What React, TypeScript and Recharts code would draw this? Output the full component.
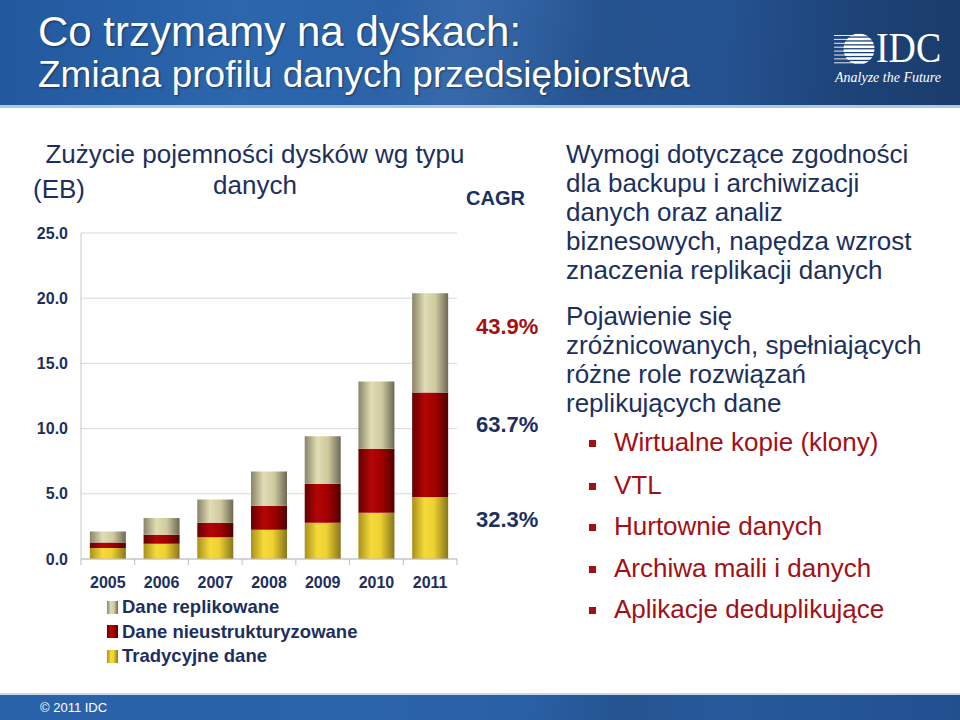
import React from 'react';
import { BarChart, Bar, XAxis, YAxis, CartesianGrid, Legend } from 'recharts';

const years = ['2005', '2006', '2007', '2008', '2009', '2010', '2011'];
const tradycyjne = [0.84, 1.17, 1.66, 2.25, 2.78, 3.55, 4.75];
const nieustrukturyzowane = [0.43, 0.69, 1.12, 1.83, 2.99, 4.9, 8.02];
const replikowane = [0.84, 1.28, 1.79, 2.63, 3.65, 5.16, 7.61];
const yTicks = [0, 5, 10, 15, 20, 25];
const cagrValues = ['43.9%', '63.7%', '32.3%'];
const legendNames = ['Dane replikowane', 'Dane nieustrukturyzowane', 'Tradycyjne dane'];
const legendGradients = ['gRepl', 'gNieu', 'gTrad'];
const para1 = [
  'Wymogi dotyczące zgodności',
  'dla backupu i archiwizacji',
  'danych oraz analiz',
  'biznesowych, napędza wzrost',
  'znaczenia replikacji danych',
];
const para2 = [
  'Pojawienie się',
  'zróżnicowanych, spełniających',
  'różne role rozwiązań',
  'replikujących dane',
];
const bullets = [
  'Wirtualne kopie (klony)',
  'VTL',
  'Hurtownie danych',
  'Archiwa maili i danych',
  'Aplikacje deduplikujące',
];

const data = years.map((y, i) => ({
  year: y,
  trad: tradycyjne[i],
  nieu: nieustrukturyzowane[i],
  repl: replikowane[i],
}));

const NAVY = '#1c2f5e';
const RED = '#a30f14';
const FONT = '"Liberation Sans", Arial, sans-serif';

const cssGrad: Record<string, string> = {
  gTrad: 'linear-gradient(90deg, #a8901c 0%, #f6da3a 35%, #efd232 60%, #8a761c 100%)',
  gNieu: 'linear-gradient(90deg, #640000 0%, #b40606 35%, #a00000 65%, #520000 100%)',
  gRepl: 'linear-gradient(90deg, #88836a 0%, #e2dcb4 35%, #cfc9a0 65%, #6c6852 100%)',
};

const YearTick = (props: any) => {
  const { x, y, payload, index, visibleTicksCount } = props;
  const half = payload && payload.offset ? payload.offset : 26.8;
  return (
    <g>
      <line x1={x - half} y1={y} x2={x - half} y2={y + 6} stroke="#bdbdbd" />
      {index === visibleTicksCount - 1 && (
        <line x1={x + half} y1={y} x2={x + half} y2={y + 6} stroke="#bdbdbd" />
      )}
      <text
        x={x}
        y={y + 29}
        textAnchor="middle"
        fill={NAVY}
        fontSize={16}
        fontWeight="bold"
        fontFamily={FONT}
      >
        {payload.value}
      </text>
    </g>
  );
};

const LegendContent = () => (
  <div style={{ fontFamily: FONT }}>
    {legendNames.map((n, i) => (
      <div
        key={n}
        style={{ display: 'flex', alignItems: 'center', height: 24.5, whiteSpace: 'nowrap' }}
      >
        <div style={{ width: 11, height: 13, background: cssGrad[legendGradients[i]], marginRight: 4 }} />
        <span style={{ fontSize: 18.5, fontWeight: 'bold', color: NAVY }}>{n}</span>
      </div>
    ))}
  </div>
);

const Globe = () => {
  const stripes = [0, 1, 2, 3, 4, 5, 6, 7];
  return (
    <svg width={44} height={34} style={{ position: 'absolute', left: 832, top: 33 }}>
      <defs>
        <clipPath id="globeClip">
          <circle cx={27} cy={16} r={15.5} />
        </clipPath>
      </defs>
      {stripes.map((s) => (
        <line key={'l' + s} x1={2} x2={20} y1={2.5 + s * 3.9} y2={2.5 + s * 3.9} stroke="#ffffff" strokeWidth={0.9} />
      ))}
      <g clipPath="url(#globeClip)">
        {stripes.map((s) => (
          <rect key={s} x={8} y={0.8 + s * 3.9} width={40} height={2.6} fill="#ffffff" />
        ))}
      </g>
    </svg>
  );
};

export default function App() {
  return (
    <div
      style={{
        position: 'absolute',
        left: 0,
        top: 0,
        width: 960,
        height: 720,
        background: '#ffffff',
        overflow: 'hidden',
        fontFamily: FONT,
      }}
    >
      {/* Header */}
      <div
        style={{
          position: 'absolute',
          left: 0,
          top: 0,
          width: 960,
          height: 107,
          background:
            'linear-gradient(100deg, rgba(255,255,255,0) 0%, rgba(255,255,255,0) 40%, rgba(255,255,255,0.06) 48%, rgba(0,0,0,0.08) 62%, rgba(0,0,0,0) 75%, rgba(0,0,0,0.1) 90%), linear-gradient(90deg, #22589e 0%, #2c66ad 25%, #2a5ea2 55%, #234f8c 80%, #1d4379 100%)',
        }}
      />
      <div style={{ position: 'absolute', left: 0, top: 105, width: 960, height: 3, background: '#a9c9e8' }} />
      <div
        style={{
          position: 'absolute',
          left: 38,
          top: 7,
          fontSize: 42,
          color: '#ffffff',
          whiteSpace: 'nowrap',
          lineHeight: '50px',
          textShadow: '1px 1px 2px rgba(0,0,0,0.45)',
        }}
      >
        Co trzymamy na dyskach:
      </div>
      <div
        style={{
          position: 'absolute',
          left: 38,
          top: 53,
          fontSize: 37,
          color: '#ffffff',
          whiteSpace: 'nowrap',
          lineHeight: '44px',
          textShadow: '1px 1px 2px rgba(0,0,0,0.45)',
        }}
      >
        Zmiana profilu danych przedsiębiorstwa
      </div>
      <Globe />
      <div
        style={{
          position: 'absolute',
          left: 876,
          top: 26,
          fontSize: 42,
          color: '#ffffff',
          fontFamily: '"Liberation Serif", "DejaVu Serif", serif',
          lineHeight: '44px',
          transform: 'scaleX(0.9)',
          transformOrigin: 'left top',
        }}
      >
        IDC
      </div>
      <div
        style={{
          position: 'absolute',
          left: 835,
          top: 70,
          fontSize: 14,
          color: '#ffffff',
          fontStyle: 'italic',
          fontFamily: '"Liberation Serif", "DejaVu Serif", serif',
          whiteSpace: 'nowrap',
        }}
      >
        Analyze the Future
      </div>

      {/* Chart title */}
      <div
        style={{
          position: 'absolute',
          left: 25,
          top: 139,
          width: 460,
          textAlign: 'center',
          fontSize: 26,
          color: NAVY,
          lineHeight: '31px',
        }}
      >
        Zużycie pojemności dysków wg typu
        <br />
        danych
      </div>
      <div style={{ position: 'absolute', left: 33, top: 174, fontSize: 26, color: NAVY, lineHeight: '30px' }}>
        (EB)
      </div>
      <div
        style={{
          position: 'absolute',
          left: 466,
          top: 186,
          fontSize: 20,
          fontWeight: 'bold',
          color: NAVY,
          lineHeight: '24px',
        }}
      >
        CAGR
      </div>
      {cagrValues.map((v, i) => (
        <div
          key={v}
          style={{
            position: 'absolute',
            left: 476,
            top: [314, 412, 507][i],
            fontSize: 22,
            fontWeight: 'bold',
            color: i === 0 ? RED : NAVY,
            lineHeight: '26px',
          }}
        >
          {v}
        </div>
      ))}

      {/* Chart */}
      <div style={{ position: 'absolute', left: 0, top: 0 }}>
        <BarChart
          width={960}
          height={720}
          data={data}
          margin={{ top: 233, right: 503, bottom: 131, left: 21 }}
          barCategoryGap="16.5%"
        >
          <defs>
            <linearGradient id="gTrad" x1="0" y1="0" x2="1" y2="0">
              <stop offset="0%" stopColor="#a8901c" />
              <stop offset="35%" stopColor="#f6da3a" />
              <stop offset="60%" stopColor="#efd232" />
              <stop offset="100%" stopColor="#8a761c" />
            </linearGradient>
            <linearGradient id="gNieu" x1="0" y1="0" x2="1" y2="0">
              <stop offset="0%" stopColor="#640000" />
              <stop offset="35%" stopColor="#b40606" />
              <stop offset="65%" stopColor="#a00000" />
              <stop offset="100%" stopColor="#520000" />
            </linearGradient>
            <linearGradient id="gRepl" x1="0" y1="0" x2="1" y2="0">
              <stop offset="0%" stopColor="#88836a" />
              <stop offset="35%" stopColor="#e2dcb4" />
              <stop offset="65%" stopColor="#cfc9a0" />
              <stop offset="100%" stopColor="#6c6852" />
            </linearGradient>
          </defs>
          <CartesianGrid vertical={false} stroke="#d9d9d9" />
          <XAxis
            dataKey="year"
            axisLine={{ stroke: '#bdbdbd' }}
            tickLine={false}
            tickSize={0}
            tickMargin={0}
            height={30}
            interval={0}
            tick={<YearTick />}
          />
          <YAxis
            domain={[0, 25]}
            ticks={yTicks}
            width={60}
            tickSize={0}
            tickMargin={13}
            tickLine={false}
            axisLine={{ stroke: '#c8c8c8' }}
            tickFormatter={(v: number) => v.toFixed(1)}
            tick={{ fill: NAVY, fontSize: 16, fontWeight: 'bold', fontFamily: FONT }}
          />
          <YAxis
            yAxisId="r"
            orientation="right"
            domain={[0, 25]}
            width={0}
            tick={false}
            tickLine={false}
            axisLine={{ stroke: '#d9d9d9' }}
          />
          <Bar dataKey="trad" name={legendNames[2]} stackId="a" fill="url(#gTrad)" isAnimationActive={false} />
          <Bar dataKey="nieu" name={legendNames[1]} stackId="a" fill="url(#gNieu)" isAnimationActive={false} />
          <Bar dataKey="repl" name={legendNames[0]} stackId="a" fill="url(#gRepl)" isAnimationActive={false} />
          <Legend
            layout="vertical"
            align="center"
            verticalAlign="middle"
            content={<LegendContent />}
            wrapperStyle={{ left: 107, top: 595, width: 'auto', height: 'auto' }}
          />
        </BarChart>
      </div>

      {/* Right text */}
      <div
        style={{
          position: 'absolute',
          left: 566,
          top: 140,
          fontSize: 26,
          lineHeight: '29px',
          color: NAVY,
          whiteSpace: 'nowrap',
        }}
      >
        {para1.map((l) => (
          <div key={l}>{l}</div>
        ))}
        <div style={{ height: 17 }} />
        {para2.map((l) => (
          <div key={l}>{l}</div>
        ))}
      </div>
      {bullets.map((b, i) => (
        <div
          key={b}
          style={{
            position: 'absolute',
            left: 589,
            top: [442, 485, 526, 568, 609][i] - 15,
            height: 30,
            display: 'flex',
            alignItems: 'center',
            whiteSpace: 'nowrap',
          }}
        >
          <div style={{ width: 7, height: 7, background: RED, marginRight: 18, marginTop: 2 }} />
          <span style={{ fontSize: 26, color: RED }}>{b}</span>
        </div>
      ))}

      {/* Footer */}
      <div style={{ position: 'absolute', left: 0, top: 693, width: 960, height: 2, background: '#c9d6e4' }} />
      <div
        style={{
          position: 'absolute',
          left: 0,
          top: 695,
          width: 960,
          height: 25,
          background:
            'linear-gradient(100deg, rgba(0,0,0,0) 0%, rgba(0,0,0,0) 55%, rgba(0,0,0,0.1) 65%, rgba(0,0,0,0) 75%), linear-gradient(90deg, #2a62aa 0%, #2b63ab 40%, #285b9e 70%, #21508f 100%)',
        }}
      />
      <div
        style={{
          position: 'absolute',
          left: 40,
          top: 699,
          fontSize: 13,
          color: '#ffffff',
          lineHeight: '18px',
          whiteSpace: 'nowrap',
        }}
      >
        © 2011 IDC
      </div>
    </div>
  );
}
